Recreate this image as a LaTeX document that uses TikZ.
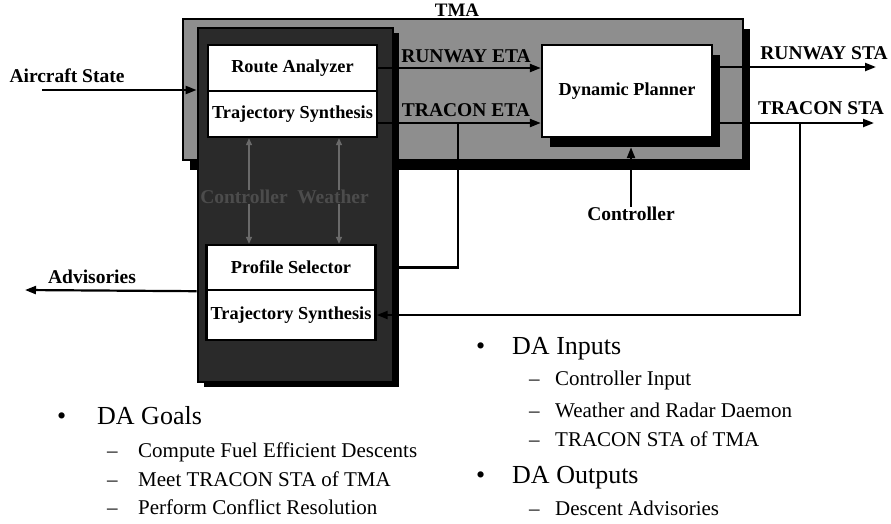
\documentclass[tikz,border=0pt]{standalone}
\usepackage{fontspec}
\setmainfont{Liberation Serif}
\usetikzlibrary{arrows.meta}
\definecolor{tmagray}{HTML}{8E8E8E}
\definecolor{dagray}{HTML}{2A2A2A}
\definecolor{innertext}{HTML}{4C4C4C}
\definecolor{innerline}{HTML}{6A6A6A}
\begin{document}
\begin{tikzpicture}[x=1pt,y=-1pt,
  lbl/.style={font=\fontsize{19.5}{21}\selectfont\bfseries, inner sep=0pt},
  wbox/.style={draw=black, line width=2.4pt, fill=white, inner sep=0pt,
    font=\fontsize{18.3}{20}\selectfont\bfseries},
  shadowbox/.style={fill=black, draw=none, inner sep=0pt},
  conn/.style={line width=2.2pt, -{Triangle[length=11pt,width=8pt]}},
  plain/.style={line width=2.2pt},
  inarr/.style={draw=innerline, line width=1.3pt, -{Triangle[length=7pt,width=6pt]}},
  big/.style={font=\fontsize{26}{28}\selectfont, inner sep=0pt, anchor=base west},
  small/.style={font=\fontsize{21}{23}\selectfont, inner sep=0pt, anchor=base west}
]
\useasboundingbox (0,0) rectangle (891,523);
\fill[white] (0,0) rectangle (891,523);

% TMA box
\node[shadowbox, minimum width=560pt, minimum height=141pt] (tmash) at (470,99.5) {};
\node[draw=black, line width=1.8pt, fill=tmagray, inner sep=0pt,
      minimum width=560pt, minimum height=141pt] (tma) at (463,89.5) {};
\node[font=\fontsize{19}{21}\selectfont\bfseries, inner sep=0pt] (tmal) at (457,10.5) {TMA};

% DA box
\node[shadowbox, minimum width=195pt, minimum height=354pt] (dash) at (301.5,210) {};
\node[draw=black, line width=2.8pt, fill=dagray, inner sep=0pt,
      minimum width=195pt, minimum height=354pt] (da) at (295.5,205) {};

% inner boxes
\node[wbox, minimum width=169pt, minimum height=46pt] (ra) at (292.5,68) {Route Analyzer};
\node[wbox, minimum width=169pt, minimum height=46pt] (ts1) at (292.5,114) {Trajectory Synthesis};
\node[wbox, minimum width=169pt, minimum height=45pt] (ps) at (291,267.5) {Profile Selector};
\node[wbox, minimum width=169pt, minimum height=50pt] (ts2) at (291,315) {Trajectory Synthesis};

% Dynamic planner
\node[shadowbox, minimum width=170pt, minimum height=92pt] (dpsh) at (635,101) {};
\node[wbox, minimum width=170pt, minimum height=92pt] (dp) at (627,91) {Dynamic Planner};

% inner controller / weather
\node[lbl, text=innertext] (ci) at (244,197) {Controller};
\node[lbl, text=innertext] (wi) at (333,197) {Weather};
\draw[inarr] ([xshift=5pt]ci.north) -- ([xshift=5pt]ci.north |- ts1.south);
\draw[inarr] ([xshift=5pt]ci.south) -- ([xshift=5pt]ci.south |- ps.north);
\draw[inarr] ([xshift=6pt]wi.north) -- ([xshift=6pt]wi.north |- ts1.south);
\draw[inarr] ([xshift=6pt]wi.south) -- ([xshift=6pt]wi.south |- ps.north);

% Aircraft state
\node[lbl] (asl) at (67,76) {Aircraft State};
\coordinate (asin) at (42,90);
\draw[conn] (asin) -- (asin -| da.west);

% ETAs
\draw[conn] (ra.east) -- (ra.east -| dp.west);
\node[lbl] (rel) at (466,56) {RUNWAY ETA};
\coordinate (te) at ([yshift=-9pt]ts1.east);
\draw[conn] (te) -- (te -| dp.west);
\node[lbl] (tel) at (466,110) {TRACON ETA};
\coordinate (tebr) at (458,123);
\draw[plain] (tebr) -- (tebr |- ps.east) -- (da.east |- ps.east);

% STAs
\coordinate (rsend) at (876,67);
\draw[conn] (dp.east |- rsend) -- (rsend);
\node[lbl] (rsl) at (824,53) {RUNWAY STA};
\coordinate (tsend) at (874,123);
\draw[conn] (dp.east |- tsend) -- (tsend);
\node[lbl] (tsl) at (821,108) {TRACON STA};
\coordinate (tsbr) at (800,123);
\draw[conn] (tsbr) -- (tsbr |- ts2.east) -- (ts2.east);

% Controller into planner
\node[lbl] (ctrl) at (631,214) {Controller};
\draw[conn] (ctrl.north) -- (ctrl.north |- dpsh.south);

% Advisories
\coordinate (advend) at (25,290);
\draw[conn] (da.west |- ps.south) -- (advend);
\node[lbl] (advl) at (92,277) {Advisories};

% DA Goals
\node[big] (gb) at (57,424) {\textbullet};
\node[big] (g0) at (97,424) {DA Goals};
\node[small] (gd1) at (107,457) {–};
\node[small] (g1) at (138,457) {Compute Fuel Efficient Descents};
\node[small] (gd2) at (107,486) {–};
\node[small] (g2) at (138,486) {Meet TRACON STA of TMA};
\node[small] (gd3) at (107,514) {–};
\node[small] (g3) at (138,514) {Perform Conflict Resolution};

% DA Inputs
\node[big] (ib) at (476,354) {\textbullet};
\node[big] (i0) at (512,354) {DA Inputs};
\node[small] (id1) at (529,385) {–};
\node[small] (i1) at (555,385) {Controller Input};
\node[small] (id2) at (529,417) {–};
\node[small] (i2) at (555,417) {Weather and Radar Daemon};
\node[small] (id3) at (529,446) {–};
\node[small] (i3) at (555,446) {TRACON STA of TMA};

% DA Outputs
\node[big] (ob) at (476,483) {\textbullet};
\node[big] (o0) at (512,483) {DA Outputs};
\node[small] (od1) at (529,515) {–};
\node[small] (o1) at (555,515) {Descent Advisories};
\end{tikzpicture}
\end{document}
